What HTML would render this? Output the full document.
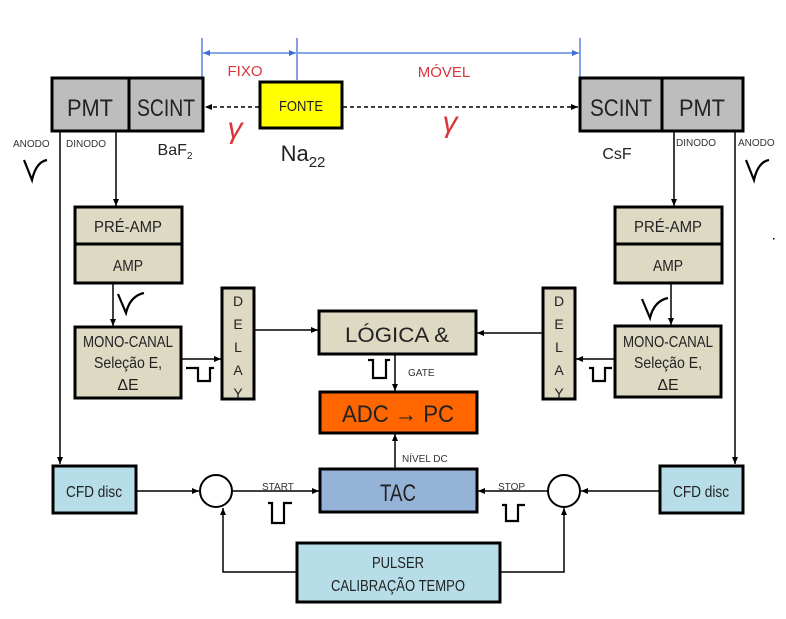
<!DOCTYPE html>
<html><head><meta charset="utf-8"><style>
html,body{margin:0;padding:0;background:#fff;width:786px;height:619px;overflow:hidden}
svg{display:block}
text{font-family:"Liberation Sans",sans-serif}
</style></head><body>
<svg width="786" height="619" viewBox="0 0 786 619" xmlns="http://www.w3.org/2000/svg">
<defs>
<marker id="a" markerWidth="8" markerHeight="8" refX="7" refY="4" orient="auto" markerUnits="userSpaceOnUse"><path d="M0,1 L7,4 L0,7 z" fill="#000"/></marker>
<marker id="b" markerWidth="8" markerHeight="8" refX="7" refY="4" orient="auto" markerUnits="userSpaceOnUse"><path d="M0,1 L7,4 L0,7 z" fill="#3b6fd6"/></marker>
<marker id="bs" markerWidth="8" markerHeight="8" refX="0" refY="4" orient="auto" markerUnits="userSpaceOnUse"><path d="M7,1 L0,4 L7,7 z" fill="#3b6fd6"/></marker>
</defs>
<g stroke="#3b6fd6" stroke-width="1.3" fill="none">
<line x1="202" y1="38" x2="202" y2="79"/><line x1="297" y1="38" x2="297" y2="80"/><line x1="580" y1="38" x2="580" y2="79"/>
<line x1="203" y1="53" x2="296" y2="53" marker-start="url(#bs)" marker-end="url(#b)"/>
<line x1="298" y1="53" x2="579" y2="53" marker-end="url(#b)"/>
</g>
<text x="245" y="76" fill="#d9363e" font-size="15" text-anchor="middle">FIXO</text>
<text x="444" y="77" fill="#d9363e" font-size="15" text-anchor="middle">MÓVEL</text>
<g stroke="#000" stroke-width="3">
<rect x="52" y="78" width="77" height="53" fill="#bdbdbd"/><rect x="129" y="78" width="74" height="53" fill="#bdbdbd"/>
<rect x="580" y="78" width="82" height="53" fill="#bdbdbd"/><rect x="662" y="78" width="81" height="53" fill="#bdbdbd"/>
<rect x="260" y="82" width="82" height="46" fill="#ffff00"/>
<rect x="75" y="207" width="107" height="37" fill="#ddd9c3"/><rect x="75" y="244" width="107" height="39" fill="#ddd9c3"/>
<rect x="615" y="207" width="107" height="37" fill="#ddd9c3"/><rect x="615" y="244" width="107" height="39" fill="#ddd9c3"/>
<rect x="75" y="327" width="106" height="71" fill="#ddd9c3"/><rect x="615" y="326" width="106" height="71" fill="#ddd9c3"/>
<rect x="222" y="288" width="32" height="111" fill="#ddd9c3"/><rect x="543" y="288" width="32" height="111" fill="#ddd9c3"/>
<rect x="319" y="311" width="157" height="43" fill="#ddd9c3"/>
<rect x="320" y="392" width="157" height="41" fill="#ff6600"/>
<rect x="320" y="469" width="157" height="43" fill="#95b3d7"/>
<rect x="53" y="466" width="83" height="47" fill="#b7dde8"/><rect x="660" y="466" width="83" height="47" fill="#b7dde8"/>
<rect x="297" y="543" width="203" height="59" fill="#b7dde8"/>
</g>
<g stroke="#000" stroke-width="2" fill="#fff"><circle cx="216" cy="491" r="16"/><circle cx="564" cy="491" r="16"/></g>
<g stroke="#000" stroke-width="1.5" fill="none">
<line x1="259" y1="107" x2="205" y2="107" stroke-dasharray="4,3" marker-end="url(#a)"/>
<line x1="343" y1="107" x2="578" y2="107" stroke-dasharray="4,3" marker-end="url(#a)"/>
<line x1="60" y1="131" x2="60" y2="464" marker-end="url(#a)"/>
<line x1="735" y1="131" x2="735" y2="464" marker-end="url(#a)"/>
<line x1="116" y1="131" x2="116" y2="206" marker-end="url(#a)"/>
<line x1="674" y1="131" x2="674" y2="206" marker-end="url(#a)"/>
<line x1="113" y1="284" x2="113" y2="326" marker-end="url(#a)"/>
<line x1="671" y1="284" x2="671" y2="325" marker-end="url(#a)"/>
<line x1="182" y1="359" x2="221" y2="359" marker-end="url(#a)"/>
<line x1="614" y1="359" x2="576" y2="359" marker-end="url(#a)"/>
<line x1="255" y1="330" x2="318" y2="330" marker-end="url(#a)"/>
<line x1="542" y1="333" x2="477" y2="333" marker-end="url(#a)"/>
<line x1="395" y1="355" x2="395" y2="391" marker-end="url(#a)"/>
<line x1="395" y1="468" x2="395" y2="434" marker-end="url(#a)"/>
<line x1="137" y1="491" x2="199" y2="491" marker-end="url(#a)"/>
<line x1="232" y1="491" x2="319" y2="491" marker-end="url(#a)"/>
<line x1="659" y1="491" x2="581" y2="491" marker-end="url(#a)"/>
<line x1="548" y1="491" x2="478" y2="491" marker-end="url(#a)"/>
<polyline points="297,572 223,572 223,508" marker-end="url(#a)"/>
<polyline points="500,572 564,572 564,508" marker-end="url(#a)"/>
</g>
<g stroke="#000" stroke-width="2.2" fill="none">
<path d="M24,160 L32,180 Q36,162 47,160"/>
<path d="M746,160 L754,180 Q758,162 769,160"/>
<path d="M118,294 L126,313 Q130,296 144,293"/>
<path d="M642,299 L650,318 Q654,301 668,298"/>
<path d="M186,368 L198,368 L198,381 L210,381 L210,368 L214,368"/>
<path d="M589,368 L593,368 L593,381 L605,381 L605,368 L612,368"/>
<path d="M368,360 L373,360 L373,378 L386,378 L386,360 L390,360"/>
<path d="M268,503 L272,503 L272,523 L284,523 L284,503 L292,503"/>
<path d="M502,505 L506,505 L506,521 L518,521 L518,505 L525,505"/>
</g>
<g fill="#222" text-anchor="middle" lengthAdjust="spacingAndGlyphs">
<text x="90" y="116" font-size="24" textLength="46" lengthAdjust="spacingAndGlyphs">PMT</text><text x="166" y="116" font-size="24" textLength="58" lengthAdjust="spacingAndGlyphs">SCINT</text>
<text x="621" y="116" font-size="24" textLength="62" lengthAdjust="spacingAndGlyphs">SCINT</text><text x="702" y="116" font-size="24" textLength="46" lengthAdjust="spacingAndGlyphs">PMT</text>
<text x="301" y="111" font-size="15" textLength="44" lengthAdjust="spacingAndGlyphs">FONTE</text>
<text x="128" y="232" font-size="16" textLength="68" lengthAdjust="spacingAndGlyphs">PRÉ-AMP</text><text x="128" y="271" font-size="16" textLength="30" lengthAdjust="spacingAndGlyphs">AMP</text>
<text x="668" y="232" font-size="16" textLength="68" lengthAdjust="spacingAndGlyphs">PRÉ-AMP</text><text x="668" y="271" font-size="16" textLength="30" lengthAdjust="spacingAndGlyphs">AMP</text>
<text x="128" y="347" font-size="16" textLength="90" lengthAdjust="spacingAndGlyphs">MONO-CANAL</text><text x="128" y="368" font-size="16" textLength="68" lengthAdjust="spacingAndGlyphs">Seleção E,</text><text x="128" y="390" font-size="16">ΔE</text>
<text x="668" y="347" font-size="16" textLength="90" lengthAdjust="spacingAndGlyphs">MONO-CANAL</text><text x="668" y="368" font-size="16" textLength="68" lengthAdjust="spacingAndGlyphs">Seleção E,</text><text x="668" y="390" font-size="16">ΔE</text>
<g font-size="14"><text x="238" y="306">D</text><text x="238" y="329">E</text><text x="238" y="352">L</text><text x="238" y="375">A</text><text x="238" y="398">Y</text>
<text x="559" y="306">D</text><text x="559" y="329">E</text><text x="559" y="352">L</text><text x="559" y="375">A</text><text x="559" y="398">Y</text></g>
<text x="397" y="342" font-size="21" textLength="104" lengthAdjust="spacingAndGlyphs">LÓGICA &amp;</text>
<text x="398" y="422" font-size="24" textLength="112" lengthAdjust="spacingAndGlyphs">ADC → PC</text>
<text x="398" y="501" font-size="24" textLength="36" lengthAdjust="spacingAndGlyphs">TAC</text>
<text x="94" y="497" font-size="16" textLength="56" lengthAdjust="spacingAndGlyphs">CFD disc</text><text x="701" y="497" font-size="16" textLength="56" lengthAdjust="spacingAndGlyphs">CFD disc</text>
<text x="398" y="568" font-size="16" textLength="52" lengthAdjust="spacingAndGlyphs">PULSER</text><text x="398" y="591" font-size="16" textLength="134" lengthAdjust="spacingAndGlyphs">CALIBRAÇÃO TEMPO</text>
<text x="175" y="155" font-size="16">BaF<tspan font-size="10" dy="4">2</tspan></text>
<text x="303" y="161" font-size="22">Na<tspan font-size="15" dy="6">22</tspan></text>
<text x="617" y="159" font-size="16">CsF</text>
</g>
<g fill="#333" font-size="10" font-family="Liberation Sans,sans-serif">
<text x="13" y="147">ANODO</text><text x="66" y="147">DINODO</text>
<text x="676" y="146">DINODO</text><text x="738" y="146">ANODO</text>
<text x="408" y="376">GATE</text><text x="402" y="462">NÍVEL DC</text>
<text x="262" y="490">START</text><text x="498" y="490">STOP</text>
</g>
<g fill="#d9363e" font-size="30" font-family="DejaVu Serif,serif" font-style="italic" text-anchor="middle">
<text x="235" y="138">γ</text><text x="450" y="132">γ</text>
</g>
<rect x="773" y="238" width="1.5" height="1.5" fill="#000"/>
</svg>
</body></html>
